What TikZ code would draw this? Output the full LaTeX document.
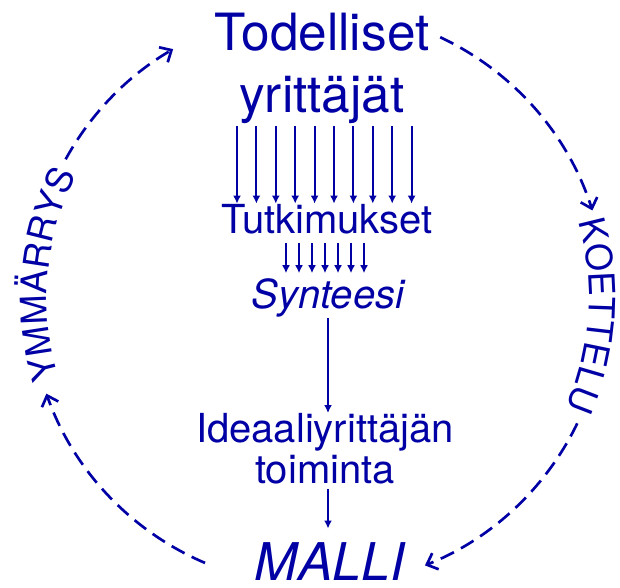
\documentclass[tikz,border=0pt]{standalone}
\usepackage{fontspec}
\setmainfont{TeX Gyre Heros}
\usetikzlibrary{arrows.meta,decorations.text}
\definecolor{sininen}{RGB}{0,0,165}

\tikzset{
  teksti/.style={text=sininen, inner sep=0pt},
  nuoli/.style={draw=sininen, line width=1.4pt, -{Latex[length=6pt,width=6pt]}},
  kaari/.style={draw=sininen, line width=2pt, dash pattern=on 11pt off 6pt, -{Straight Barb[length=7pt,width=13pt]}},
  kehateksti/.style={decoration={text along path, text align=center, text color=sininen, text={|\fontsize{27}{27}\selectfont|#1}}, decorate}
}

\begin{document}
\begin{tikzpicture}[x=0.75pt, y=0.75pt]
\useasboundingbox (0,0) rectangle (620,-587);

\node[teksti, anchor=north, align=center, font=\fontsize{38.5}{46.5}\selectfont] (todelliset) at (322,-13) {Todelliset\\yrittäjät};
\node[teksti, anchor=base, font=\fontsize{30}{30}\selectfont] (tutkimukset) at (327,-233) {Tutkimukset};
\node[teksti, anchor=base, font=\fontsize{30}{30}\selectfont\itshape] (synteesi) at (328,-308) {Synteesi};
\node[teksti, anchor=north, align=center, font=\fontsize{30}{30.75}\selectfont] (ideaali) at (325,-413) {Ideaaliyrittäjän\\toiminta};
\node[teksti, anchor=base, font=\fontsize{39}{39}\selectfont\itshape] (malli) at (330,-580) {MALLI};

\foreach \i in {0,...,9} {
  \coordinate (x\i) at ({237+19.4*\i},0);
  \draw[nuoli, shorten <=1.5pt] (todelliset.south -| x\i) -- (tutkimukset.north -| x\i);
}
\foreach \i in {0,...,6} {
  \coordinate (y\i) at ({286+13*\i},0);
  \draw[nuoli, shorten <=7pt, shorten >=3.5pt] (tutkimukset.south -| y\i) -- (synteesi.north -| y\i);
}
\coordinate (keski) at (328,0);
\draw[nuoli, shorten <=1pt] (synteesi.south -| keski) -- (ideaali.north -| keski);
\draw[nuoli, shorten <=3.75pt, shorten >=10pt] (ideaali.south -| keski) -- (malli.north -| keski);

\coordinate (keskus) at (318,-298);
\draw[kaari] ([shift={(64.9:288)}]keskus) arc[start angle=64.9, end angle=17.7, radius=288];
\draw[kaari] ([shift={(-25.8:288)}]keskus) arc[start angle=-25.8, end angle=-68.2, radius=288];
\draw[kaari] ([shift={(246.9:288)}]keskus) arc[start angle=246.9, end angle=199.4, radius=288];
\draw[kaari] ([shift={(151.2:288)}]keskus) arc[start angle=151.2, end angle=120.2, radius=288];

\path[kehateksti=KOETTELU] ([shift={(20:271)}]keskus) arc[start angle=20, end angle=-27.5, radius=271];
\path[kehateksti=YMMÄRRYS] ([shift={(200:271)}]keskus) arc[start angle=200, end angle=150, radius=271];
\end{tikzpicture}
\end{document}
